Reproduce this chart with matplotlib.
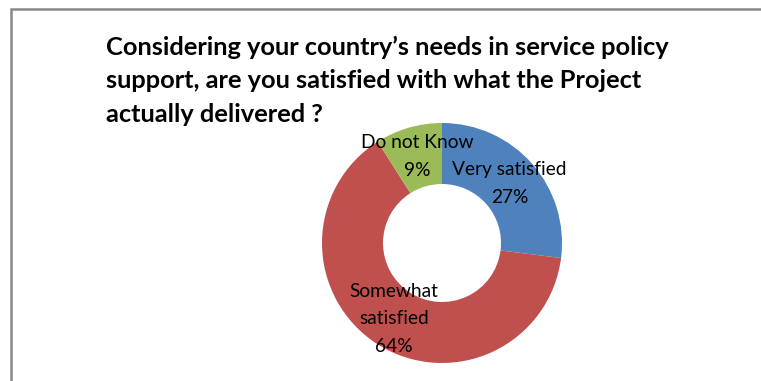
import matplotlib.pyplot as plt
from matplotlib.patches import Rectangle

W, H = 761, 381

title = ("Considering your country\u2019s needs in service policy\n"
         "support, are you satisfied with what the Project\n"
         "actually delivered ?")
labels = ["Very satisfied", "Somewhat\nsatisfied", "Do not Know"]
shares = [27, 64, 9]
colors = ["#4F81BD", "#C0504D", "#9BBB59"]

plt.rcParams['font.family'] = ['Lato', 'DejaVu Sans']

fig = plt.figure(figsize=(W / 100, H / 100), dpi=100)
fig.patch.set_facecolor("white")

# axes span the whole figure, one data unit per pixel
ax = fig.add_axes([0, 0, 1, 1])

texts = ax.pie(shares, labels=[f"{l}\n{s}%" for l, s in zip(labels, shares)],
               colors=colors, startangle=90, counterclock=False,
               center=(442, H - 243), radius=120, labeldistance=0.75,
               wedgeprops=dict(width=61, linewidth=0),
               textprops=dict(fontsize=13.8, color="black"))[1]
for t in texts:
    t.set_ha("center")
    t.set_va("center")
    t.set_linespacing(1.75)

# pie() resets the limits, so set them afterwards
ax.set_xlim(0, W)
ax.set_ylim(0, H)
ax.set_aspect("equal")
ax.axis("off")

# chart frame, cut off at the right and bottom
ax.add_patch(Rectangle((10.5, -20), W + 40, H - 8.5 + 20, fill=False,
                       edgecolor="#888888", linewidth=1.8))

fig.text(106 / W, 1 - 36 / H, title, ha="left", va="top", fontsize=18.3,
         fontweight="bold", linespacing=1.54)

fig.savefig("out.png", dpi=100)
